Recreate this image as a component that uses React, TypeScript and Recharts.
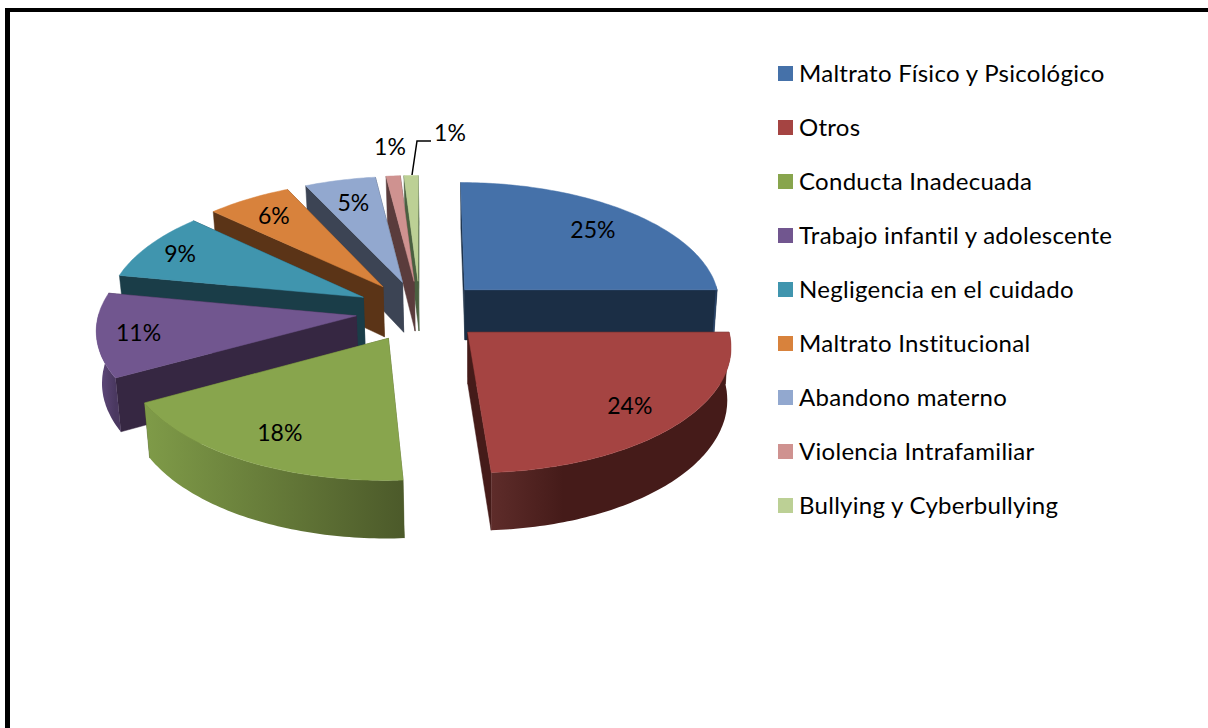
import { Legend, Pie, PieChart } from 'recharts';

const categories = [
  'Maltrato Físico y Psicológico',
  'Otros',
  'Conducta Inadecuada',
  'Trabajo infantil y adolescente',
  'Negligencia en el cuidado',
  'Maltrato Institucional',
  'Abandono materno',
  'Violencia Intrafamiliar',
  'Bullying y Cyberbullying',
];
const values = [25, 24, 18, 11, 9, 6, 5, 1, 1];
const topColors = ['#4571a9', '#a54442', '#88a54d', '#71568f', '#4095ae', '#d8823c', '#92a8cf', '#cf9290', '#bcd095'];
const faceColors = ['#1b2e45', '#451b19', '#4e5c2b', '#362742', '#1a3d48', '#5b3417', '#3c4454', '#5a3c3c', '#4a6040'];
const wallLight = ['#2a4468', '#5e2c2a', '#7f9b48', '#634c80', '#2d6a7c', '#9a5c2a', '#66769a', '#8f6664', '#84926a'];
const wallDark = ['#1b2e45', '#451b19', '#4c5a2a', '#4a3860', '#1a3d48', '#5b3417', '#3c4454', '#5a3c3c', '#4a6040'];
const labelFractions = [0.77, 0.79, 0.78, 0.84, 0.85, 0.8, 0.77, 0, 0];

// painter's order: back slices first, walking the pie the other way round from 3 o'clock
const drawOrder = [0, 8, 7, 6, 5, 4, 3, 2, 1];
const tableData = drawOrder.map((i) => ({
  name: categories[i],
  value: values[i],
  fill: topColors[i],
  colorIndex: i,
}));

const CX = 420;
const CY = 311;
const SCALE_X = 257;
const SCALE_Y = 122;
const PERSPECTIVE = 0.1;
const EXPLODE = 0.25;
const DEPTH = 51;
const VANISH_X = 480;

const rad = (deg: number) => (deg * Math.PI) / 180;

// ground plane point (X right, Z towards the viewer) onto the screen
const project = (X: number, Z: number) => {
  const s = 1 / (1 - PERSPECTIVE * Z);
  return { x: CX + SCALE_X * X * s, y: CY + SCALE_Y * Z * s, s };
};

const slicePoint = (mid: number, deg: number, f: number) => {
  const X = EXPLODE * Math.cos(rad(mid)) + f * Math.cos(rad(deg));
  const Z = -EXPLODE * Math.sin(rad(mid)) - f * Math.sin(rad(deg));
  return { ...project(X, Z), v: -Math.sin(rad(deg)) };
};

const lower = (p: { x: number; y: number; s: number }) => ({
  x: VANISH_X + (p.x - VANISH_X) * 0.985,
  y: p.y + DEPTH * p.s,
});

const toPath = (pts: { x: number; y: number }[]) =>
  `M${pts.map((p) => `${p.x.toFixed(1)},${p.y.toFixed(1)}`).join('L')}Z`;

const SliceShape = (props: any) => {
  const { startAngle, endAngle, colorIndex } = props;
  const top = topColors[colorIndex];
  const face = faceColors[colorIndex];
  const mid = (startAngle + endAngle) / 2;
  const apex = slicePoint(mid, mid, 0);

  const arc: { x: number; y: number; s: number; v: number }[] = [];
  const steps = Math.max(2, Math.ceil(endAngle - startAngle));
  for (let k = 0; k <= steps; k += 1) {
    arc.push(slicePoint(mid, startAngle + ((endAngle - startAngle) * k) / steps, 1));
  }

  const faces = [arc[0], arc[arc.length - 1]]
    .sort((a, b) => a.y - b.y)
    .map((rim) => toPath([apex, rim, lower(rim), lower(apex)]));

  const front = arc.filter((p) => p.v >= -0.05);
  const wall = front.length > 1 ? toPath([...front, ...[...front].reverse().map(lower)]) : null;
  const gradientId = `wall-${colorIndex}`;
  const xs = front.map((p) => p.x);

  return (
    <g>
      {faces.map((d, i) => (
        <path key={i} d={d} fill={face} stroke={face} strokeWidth={0.5} />
      ))}
      {wall && (
        <>
          <defs>
            <linearGradient
              id={gradientId}
              gradientUnits="userSpaceOnUse"
              x1={Math.min(...xs)}
              x2={Math.max(...xs)}
              y1={0}
              y2={0}
            >
              <stop offset="0%" stopColor={wallLight[colorIndex]} />
              <stop offset={colorIndex === 1 ? '30%' : '100%'} stopColor={wallDark[colorIndex]} />
            </linearGradient>
          </defs>
          <path d={wall} fill={`url(#${gradientId})`} />
        </>
      )}
      <path d={toPath([apex, ...arc])} fill={top} stroke={top} strokeWidth={0.5} />
    </g>
  );
};

const SliceLabel = (props: any) => {
  const { midAngle, value, colorIndex } = props;
  let x: number;
  let y: number;
  if (value <= 1) {
    x = colorIndex === 8 ? 450 : 390;
    y = colorIndex === 8 ? 132 : 146;
  } else {
    const p = slicePoint(midAngle, midAngle, labelFractions[colorIndex]);
    x = p.x;
    y = p.y;
  }
  return (
    <text x={x} y={y} textAnchor="middle" dominantBaseline="central" fill="#000" fontSize={23} fontFamily="Lato">
      {value}%
    </text>
  );
};

const LeaderLine = (props: any) => {
  if (props.payload?.colorIndex !== 8 && props.colorIndex !== 8) return <g />;
  return <path d="M412,175L417,141L431,141" fill="none" stroke="#000" strokeWidth={1.5} />;
};

const LegendList = ({ payload }: any) => {
  const rows = [...(payload ?? [])].sort(
    (a: any, b: any) => categories.indexOf(a.value) - categories.indexOf(b.value),
  );
  return (
    <div>
      {rows.map((row: any) => (
        <div key={row.value} style={{ height: 53.9, display: 'flex', alignItems: 'center' }}>
          <span style={{ width: 15, height: 15, background: row.color, marginRight: 6, flex: 'none' }} />
          <span style={{ fontFamily: 'Lato', fontSize: 24, letterSpacing: 0.28, color: '#000', whiteSpace: 'nowrap', position: 'relative', top: -1 }}>
            {row.value}
          </span>
        </div>
      ))}
    </div>
  );
};

export default function App() {
  return (
    <div style={{ position: 'absolute', left: 0, top: 0, width: 1208, height: 728, overflow: 'hidden', background: '#fff' }}>
      <div
        style={{
          position: 'absolute',
          left: 5,
          top: 8,
          right: -10,
          bottom: -10,
          borderLeft: '5px solid #000',
          borderTop: '4px solid #000',
        }}
      />
      <PieChart width={1208} height={728} style={{ position: 'absolute', left: 0, top: 0 }}>
        <Pie
          data={tableData}
          dataKey="value"
          nameKey="name"
          cx={CX}
          cy={CY}
          outerRadius={SCALE_X}
          startAngle={0}
          endAngle={360}
          stroke="none"
          shape={SliceShape}
          label={SliceLabel}
          labelLine={LeaderLine}
          isAnimationActive={false}
        />
        <Legend
          layout="vertical"
          align="right"
          verticalAlign="top"
          content={LegendList}
          wrapperStyle={{ left: 778, top: 47, width: 400, right: 'auto' }}
        />
      </PieChart>
    </div>
  );
}
